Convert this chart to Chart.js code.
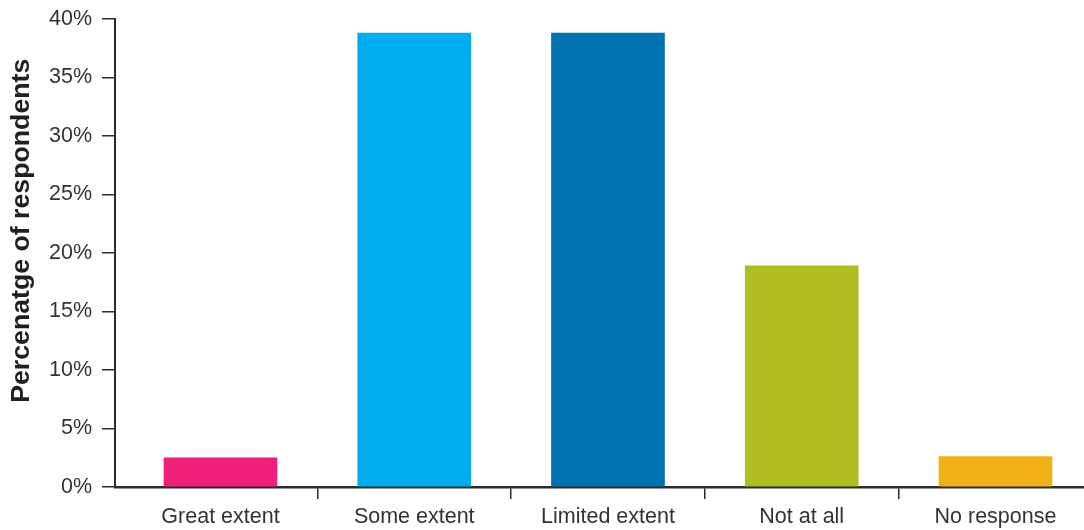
<!DOCTYPE html>
<html>
<head>
<meta charset="utf-8">
<script src="https://cdn.jsdelivr.net/npm/chart.js@4/dist/chart.umd.min.js"></script>
<style>
  html, body { margin: 0; padding: 0; background: #fff; overflow: hidden; }
  #wrap { width: 1084px; height: 530px; position: relative; }
</style>
</head>
<body>
<div id="wrap"><canvas id="c" width="1084" height="530"></canvas></div>
<script>
const categories = ["Great extent", "Some extent", "Limited extent", "Not at all", "No response"];
const values = [2.5, 38.8, 38.8, 18.9, 2.6];
const barColors = ["#ee2079", "#00aeef", "#0072af", "#afbd22", "#efb116"];
const yTickValues = [0, 5, 10, 15, 20, 25, 30, 35, 40];
const yTitle = "Percenatge of respondents";

const points = categories.map((c, i) => ({ x: i, y: values[i] }));
const axisColor = "#2b2b2b";
const textColor = "#333333";
const FONT = "'Liberation Sans', Arial, Helvetica, sans-serif";

new Chart(document.getElementById("c"), {
  type: "bar",
  data: {
    datasets: [{
      data: points,
      backgroundColor: barColors,
      borderWidth: 0,
      barThickness: 113
    }]
  },
  options: {
    responsive: false,
    animation: false,
    events: [],
    layout: { padding: { top: 19, right: 0, bottom: 0, left: 0 } },
    plugins: { legend: { display: false }, tooltip: { enabled: false } },
    scales: {
      x: {
        type: "linear",
        offset: false,
        min: -0.5445,
        max: 4.457,
        afterBuildTicks: (s) => { s.ticks = categories.map((c, i) => ({ value: i })); },
        afterFit: (s) => { s.height = 43; s.paddingLeft = 0; s.paddingRight = 0; },
        border: { display: true, color: axisColor, width: 2.5 },
        grid: {
          offset: true,
          drawOnChartArea: false,
          drawTicks: true,
          tickLength: 12,
          lineWidth: 1.5,
          color: (ctx) => (ctx.index === 0 ? "rgba(0,0,0,0)" : axisColor),
          tickColor: (ctx) => (ctx.index === 0 ? "rgba(0,0,0,0)" : axisColor)
        },
        ticks: {
          autoSkip: false,
          maxRotation: 0,
          padding: 5,
          color: textColor,
          font: { family: FONT, size: 21.5 },
          callback: (v) => categories[v] ?? ""
        }
      },
      y: {
        min: 0,
        max: 40,
        afterBuildTicks: (s) => { s.ticks = yTickValues.map(v => ({ value: v })); },
        afterFit: (s) => { s.width = 115; s.paddingTop = 0; s.paddingBottom = 0; },
        border: { display: true, color: axisColor, width: 2 },
        grid: {
          drawOnChartArea: false,
          drawTicks: true,
          tickLength: 13,
          lineWidth: 1.5,
          color: axisColor,
          tickColor: axisColor
        },
        ticks: {
          padding: 10,
          color: textColor,
          font: { family: FONT, size: 21.5 },
          callback: (v) => v + "%"
        },
        title: {
          display: true,
          text: "\u00a0\u00a0\u00a0\u00a0\u00a0\u00a0" + yTitle,
          color: "#231f20",
          font: { family: FONT, size: 26.7, weight: "bold" },
          padding: { top: 6, bottom: 0 }
        }
      }
    }
  }
});
</script>
</body>
</html>
